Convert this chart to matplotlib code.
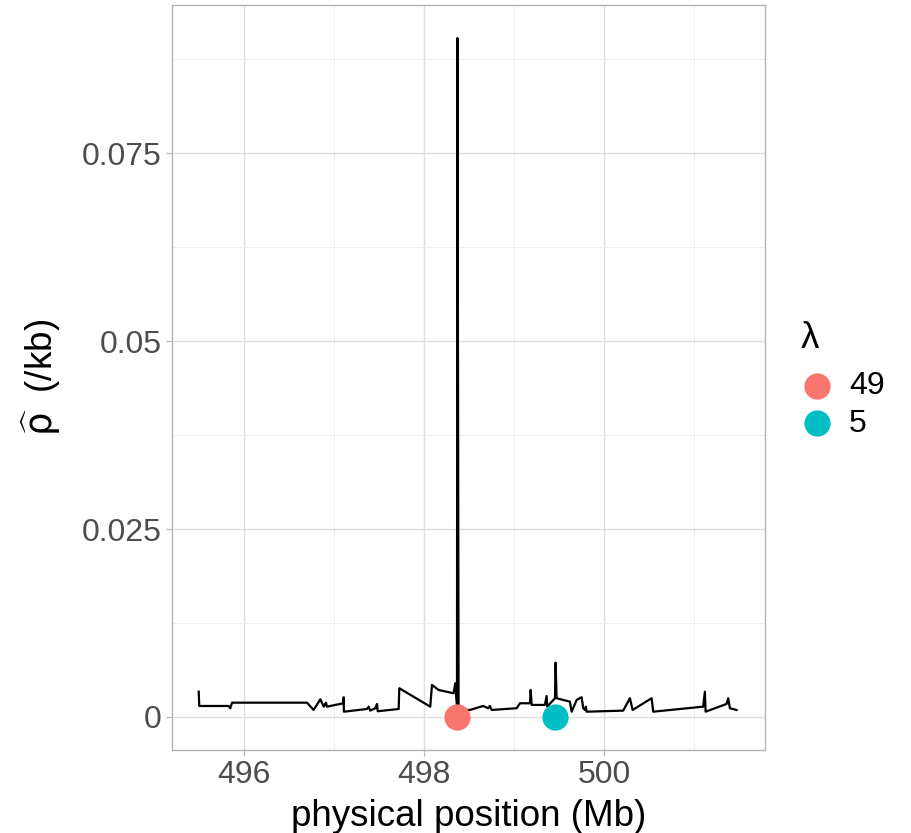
import numpy as np
import matplotlib.pyplot as plt
from matplotlib.ticker import FixedLocator

# traced recombination rate estimate along the region
pos_mb = [495.497, 495.503, 495.830, 495.848, 495.867, 496.700, 496.774, 496.848,
          496.886, 496.911, 496.922, 497.105, 497.108, 497.110, 497.367, 497.386,
          497.403, 497.459, 497.478, 497.486, 497.719, 497.726, 498.070, 498.089,
          498.163, 498.330, 498.348, 498.367, 498.372, 498.385, 498.400, 498.511,
          498.659, 498.715, 498.733, 498.752, 499.030, 499.067, 499.178, 499.186,
          499.197, 499.344, 499.363, 499.370, 499.456, 499.463, 499.474, 499.622,
          499.641, 499.697, 499.752, 499.770, 499.789, 499.800, 499.808, 500.214,
          500.289, 500.319, 500.530, 500.548, 501.103, 501.122, 501.130, 501.363,
          501.381, 501.400, 501.474]
rho = [0.00336, 0.00146, 0.00146, 0.00116, 0.00190, 0.00190, 0.00093, 0.00235,
       0.00137, 0.00190, 0.00137, 0.00182, 0.00262, 0.00070, 0.00106, 0.00137,
       0.00084, 0.00116, 0.00173, 0.00076, 0.00106, 0.00382, 0.00137, 0.00426,
       0.00359, 0.00315, 0.00448, 0.00160, 0.09030, 0.00093, 0.00093, 0.00093,
       0.00146, 0.00116, 0.00146, 0.00093, 0.00116, 0.00182, 0.00182, 0.00359,
       0.00160, 0.00160, 0.00279, 0.00137, 0.00249, 0.00722, 0.00249, 0.00203,
       0.00070, 0.00226, 0.00262, 0.00116, 0.00093, 0.00137, 0.00070, 0.00084,
       0.00249, 0.00093, 0.00249, 0.00070, 0.00137, 0.00336, 0.00070, 0.00173,
       0.00249, 0.00116, 0.00093]

lam_labels = ["49", "5"]
lam_pos = [498.367, 499.46]
lam_y = [0, 0]
lam_cols = ["#F8766D", "#00BFC4"]

xticks = [496, 498, 500]
yticks = [0, 0.025, 0.05, 0.075]
ytick_labels = ["0", "0.025", "0.05", "0.075"]

plt.rcParams['font.family'] = ['Liberation Sans', 'DejaVu Sans']

fig = plt.figure(figsize=(9.12, 8.33), dpi=100)
ax = fig.add_axes([0.1886, 0.0996, 0.6502, 0.8944])

ax.set_xlim(495.2, 501.79)
ax.set_ylim(-0.0044, 0.0947)

ax.xaxis.set_major_locator(FixedLocator(xticks))
ax.xaxis.set_minor_locator(FixedLocator([495, 497, 499, 501]))
ax.yaxis.set_major_locator(FixedLocator(yticks))
ax.yaxis.set_minor_locator(FixedLocator([0.0125, 0.0375, 0.0625, 0.0875]))
ax.set_yticklabels(ytick_labels)
ax.grid(which='major', color='#DEDEDE', lw=1.0)
ax.grid(which='minor', color='#EDEDED', lw=0.6)
ax.set_axisbelow(True)
for s in ax.spines.values():
    s.set_color('#B3B3B3')
    s.set_linewidth(1.0)
ax.tick_params(which='major', length=4.3, color='#B3B3B3', labelsize=23,
               labelcolor='#4D4D4D', pad=3)
ax.tick_params(which='minor', length=0)

ax.plot(pos_mb, rho, color='black', lw=1.6, zorder=3)
for p, yv, c, lab in zip(lam_pos, lam_y, lam_cols, lam_labels):
    ax.scatter([p], [yv], s=320, color=c, zorder=4, label=lab, clip_on=False)

ax.set_xlabel('physical position (Mb)', fontsize=26.5, labelpad=6)
ax.set_ylabel(r'$\widehat{\mathrm{ρ}}$  (/kb)', fontsize=26.5, labelpad=14)

leg = ax.legend(title='λ', loc='center left', bbox_to_anchor=(1.034, 0.497),
                frameon=False, fontsize=23, title_fontsize=26.5,
                handlelength=1.0, handletextpad=0.5, labelspacing=0.25,
                borderpad=0)
leg._legend_box.align = 'left'
leg._legend_box.sep = 11

fig.savefig('out.png', dpi=100)
